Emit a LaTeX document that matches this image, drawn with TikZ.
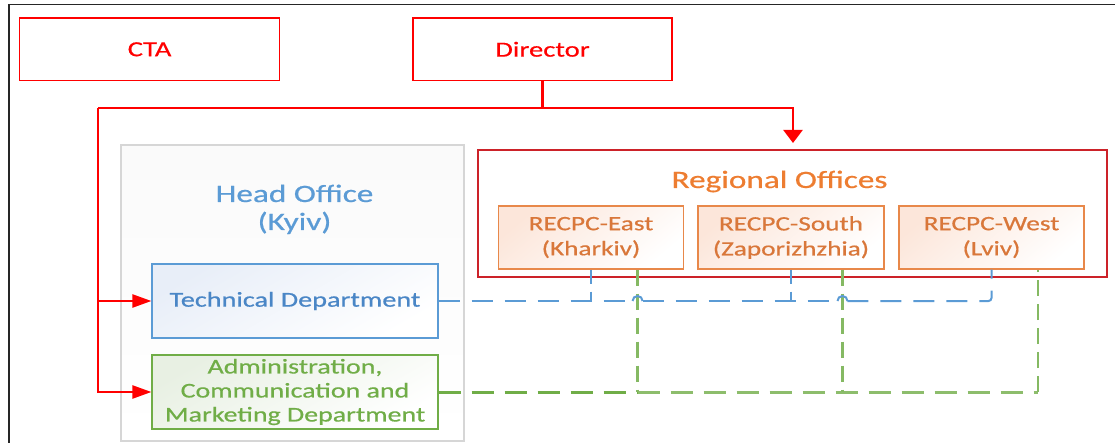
\documentclass[tikz,border=0pt]{standalone}
\usepackage{fontspec}
\setmainfont{Carlito}[FakeStretch=1.33,FakeBold=0.6]
\usetikzlibrary{arrows.meta,calc}
\definecolor{cred}{HTML}{FF0000}
\definecolor{dred}{HTML}{CC2229}
\definecolor{cblue}{HTML}{5B9BD5}
\definecolor{tblue}{HTML}{4A86C6}
\definecolor{cgreen}{HTML}{70AD47}
\definecolor{corange}{HTML}{ED7D31}
\definecolor{rorange}{HTML}{D9773A}
\definecolor{rborder}{HTML}{E8884A}
\definecolor{gborder}{HTML}{D6D6D6}
\definecolor{rfill}{HTML}{FCE6DA}
\definecolor{tfill}{HTML}{E8EEF8}
\definecolor{afill}{HTML}{E8F0E3}
\begin{document}
\begin{tikzpicture}[x=1pt,y=-1pt,
  topbox/.style={draw=cred, line width=1.3pt, text=cred, inner sep=0pt,
    font=\fontsize{21.5}{24}\selectfont},
  regbox/.style={draw=rborder, line width=1.2pt, text=rorange, inner sep=0pt,
    align=center, top color=rfill, bottom color=white, shading angle=40,
    minimum width=185pt, minimum height=63pt,
    font=\fontsize{20.5}{25}\selectfont},
  techbox/.style={draw=cblue, line width=1.2pt, text=tblue, inner sep=0pt,
    top color=tfill, bottom color=white, shading angle=30,
    minimum width=286pt, minimum height=74pt,
    font=\fontsize{21.2}{24}\selectfont},
  adminbox/.style={draw=cgreen, line width=1.2pt, text=cgreen, inner sep=0pt,
    align=center, top color=afill, bottom color=white, shading angle=30,
    minimum width=286pt, minimum height=74pt,
    font=\fontsize{21}{24}\selectfont},
  redline/.style={draw=cred, line width=2.4pt},
  redarrow/.style={redline, -{Triangle[length=19pt,width=13pt]}},
  downarrow/.style={redline, -{Triangle[length=13pt,width=19pt]}},
  blueline/.style={draw=cblue, line width=2pt, dash pattern=on 21pt off 12pt},
  bluehop/.style={draw=cblue, line width=2pt},
  bluedrop/.style={draw=cblue, line width=2pt, dash pattern=on 14pt off 8pt},
  greenline/.style={draw=cgreen, line width=3pt, dash pattern=on 22pt off 11pt},
  greendrop/.style={draw=cgreen!85, line width=2.3pt, dash pattern=on 16pt off 8pt},
]
\useasboundingbox (0,0) rectangle (1115,443);
% outer frame (cropped)
\draw[black!85, line width=1.8pt] (9,460) -- (9,4.5) -- (1130,4.5);

\node[topbox, minimum width=260pt, minimum height=62.7pt] (cta) at (149.6,49.3) {CTA};
\node[topbox, minimum width=259pt, minimum height=62.7pt] (dir) at (542.5,49.3) {Director};

\node[draw=gborder, line width=1.2pt, top color=black!2, bottom color=white,
  minimum width=343pt, minimum height=296pt, inner sep=0pt] (ho) at (292.5,293) {};
\node[text=cblue, anchor=base, font=\fontsize{25}{28}\selectfont] (hot) at (294.5,202) {Head Office};
\node[text=cblue, anchor=base, font=\fontsize{25}{28}\selectfont] (hok) at (294.5,230) {(Kyiv)};

\node[techbox] (tech) at (295,301) {Technical Department};
\node[adminbox] (admin) at (295,392) {Administration,\\Communication and\\Marketing Department};

\node[draw=dred, line width=1.3pt, minimum width=629pt, minimum height=127pt, inner sep=0pt] (ro) at (792.5,213.5) {};
\node[text=corange, anchor=base, font=\fontsize{25}{28}\selectfont] (rot) at (779.5,188) {Regional Offices};

\node[regbox] (east) at (591,237.5) {RECPC-East\\(Kharkiv)};
\node[regbox, minimum width=186pt] (south) at (791,237.5) {RECPC-South\\(Zaporizhzhia)};
\node[regbox] (west) at (991.5,237.5) {RECPC-West\\(Lviv)};

% red connectors
\coordinate (jn) at (542.5,108);
\coordinate (lft) at (98,108);
\coordinate (roarr) at (793,143);
\draw[redline] (dir.south) -- (jn);
\draw[downarrow] (jn) -| (roarr);
\draw[redline] (jn) -- (lft);
\draw[redarrow] (lft) |- (tech.west);
\draw[redarrow] (lft) |- (admin.west);

% green verticals positions
\coordinate (eg) at ($(east.south)!0.5!(east.south east)$);
\coordinate (sg) at ($(south.south)!0.55!(south.south east)$);
\coordinate (wg) at ($(west.south)!0.5!(west.south east)$);

% green connectors
\draw[greenline] (admin.east) -- (eg |- admin.east);
\draw[greenline, draw=cgreen!80] (eg |- admin.east) -- (wg |- admin.east);
\draw[greendrop] (wg |- admin.east) -- (wg);
\draw[greendrop] (eg) -- (eg |- admin.east);
\draw[greendrop] (sg) -- (sg |- admin.east);

% blue connectors with hops over the green lines
\coordinate (h1a) at ($(eg |- tech.east)+(-5,0)$);
\coordinate (h1b) at ($(eg |- tech.east)+(5,0)$);
\coordinate (h2a) at ($(sg |- tech.east)+(-5,0)$);
\coordinate (h2b) at ($(sg |- tech.east)+(5,0)$);
\draw[blueline] (tech.east) -- (h1a);
\draw[bluehop] (h1a) arc[start angle=180, end angle=0, radius=5pt];
\draw[blueline] (h1b) -- (h2a);
\draw[bluehop] (h2a) arc[start angle=180, end angle=0, radius=5pt];
\draw[blueline, rounded corners=3pt] (h2b) -- (west.south |- tech.east) -- (west.south);
\draw[bluedrop] (east.south) -- (east.south |- tech.east);
\draw[bluedrop] (south.south) -- (south.south |- tech.east);
\end{tikzpicture}
\end{document}
